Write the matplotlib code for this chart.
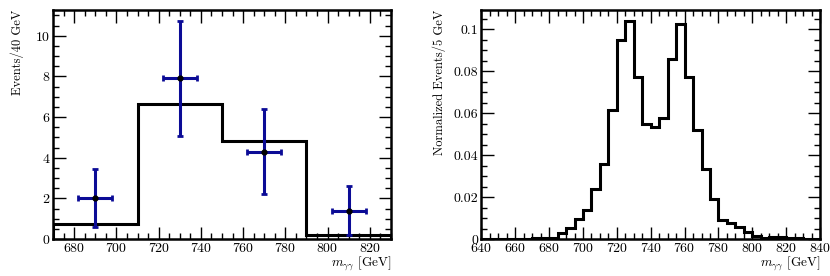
import numpy as np
import matplotlib
matplotlib.use('Agg')
import matplotlib.pyplot as plt
from matplotlib.ticker import MultipleLocator, FuncFormatter

plt.rcParams['font.family'] = ['cmr10', 'DejaVu Serif']
plt.rcParams['mathtext.fontset'] = 'cm'
plt.rcParams['axes.formatter.use_mathtext'] = True

# left panel: 40 GeV bins, expected histogram + data points
left_edges = [670, 710, 750, 790, 830]
left_hist = [0.72, 6.65, 4.8, 0.2]
data_x = [690, 730, 770, 810]
data_y = [2.0, 7.9, 4.3, 1.4]
data_err = [1.42, 2.83, 2.08, 1.2]
data_xerr = [8, 8, 8, 8]

# right panel: normalized distribution, 5 GeV bins from 640 to 840
right_edges = list(range(640, 845, 5))
right_hist = [0.0, 0.0, 0.0, 0.0, 0.0002, 0.0002, 0.0005, 0.0005, 0.0006,
              0.0029, 0.0053, 0.0096, 0.0137, 0.0237, 0.036, 0.0616, 0.0949,
              0.104, 0.0774, 0.0548, 0.0535, 0.0578, 0.0857, 0.1025, 0.0775,
              0.0522, 0.0336, 0.0191, 0.0089, 0.0078, 0.0057, 0.0033, 0.0016,
              0.0006, 0.0011, 0.0008, 0.0003, 0.0003, 0.0002, 0.0001]

fig = plt.figure(figsize=(8.3, 2.76), dpi=100)
ax1 = fig.add_axes([0.064, 0.134, 0.407, 0.83])
ax2 = fig.add_axes([0.580, 0.134, 0.408, 0.83])

def style(ax):
    for s in ax.spines.values():
        s.set_linewidth(1.8)
    ax.tick_params(which='both', direction='in', top=True, right=True, labelsize=10, width=1.0, pad=2)
    ax.tick_params(which='major', length=9)
    ax.tick_params(which='minor', length=4.5)
    ax.xaxis.set_minor_locator(MultipleLocator(5))
    ax.xaxis.set_major_locator(MultipleLocator(20))

# left
ax1.stairs(left_hist, left_edges, color='black', linewidth=2.2)
ax1.errorbar(data_x, data_y, yerr=data_err, xerr=data_xerr, fmt='o', color='black',
             ms=3.5, ecolor='#0b0b96', elinewidth=2.2, capsize=2.5, capthick=2.0)
ax1.set_xlim(670, 830)
ax1.set_ylim(0, 11.27)
style(ax1)
ax1.yaxis.set_major_locator(MultipleLocator(2))
ax1.yaxis.set_minor_locator(MultipleLocator(0.5))
ax1.set_ylabel('Events/40 GeV', fontsize=9, loc='top', labelpad=8)
ax1.set_xlabel(r'$m_{\gamma\gamma}$ [GeV]', fontsize=9.5, loc='right', labelpad=0)

# right
ax2.stairs(right_hist, right_edges, color='black', linewidth=2.2)
ax2.set_xlim(640, 840)
ax2.set_ylim(0, 0.1093)
style(ax2)
ax2.yaxis.set_major_locator(MultipleLocator(0.02))
ax2.yaxis.set_minor_locator(MultipleLocator(0.005))
ax2.yaxis.set_major_formatter(FuncFormatter(lambda v, p: '%g' % round(v, 4)))
ax2.set_ylabel('Normalized Events/5 GeV', fontsize=9, loc='top', labelpad=6)
ax2.set_xlabel(r'$m_{\gamma\gamma}$ [GeV]', fontsize=9.5, loc='right', labelpad=0)

fig.savefig('out.png', dpi=100)
